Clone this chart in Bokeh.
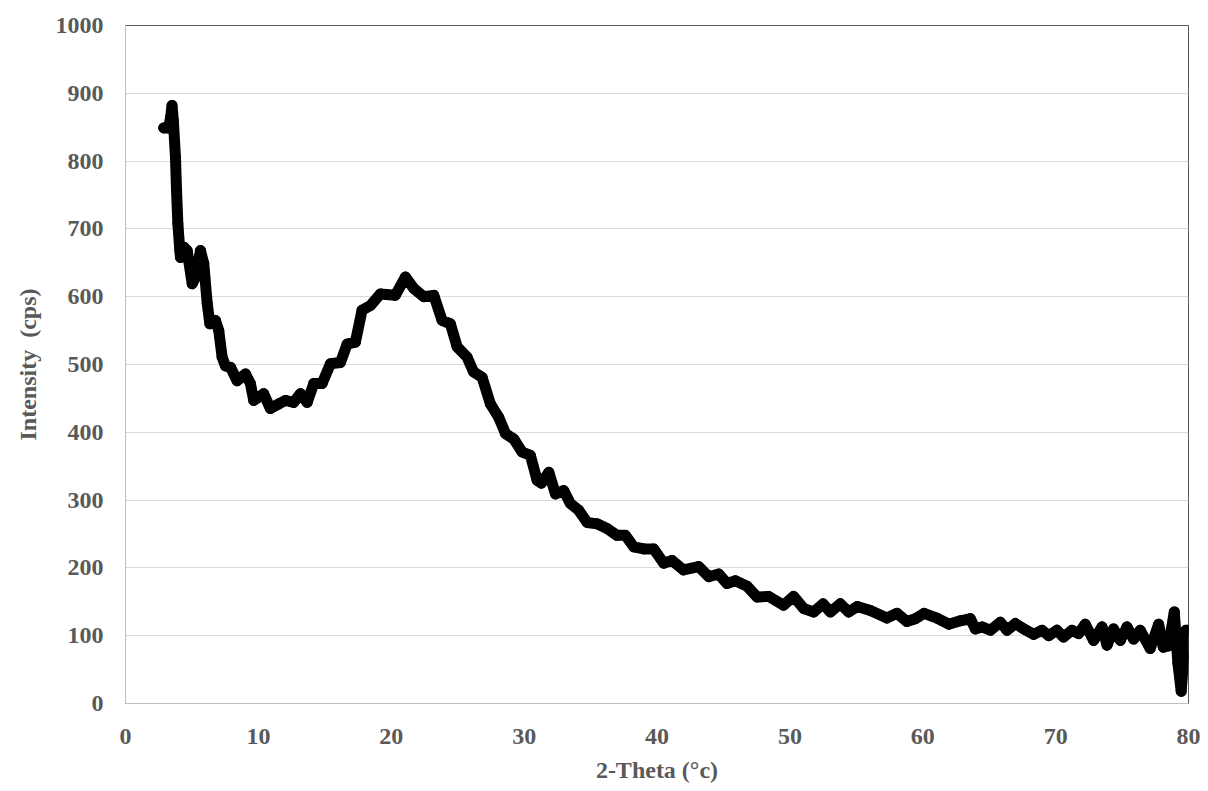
from bokeh.plotting import figure
from bokeh.models import Range1d, FixedTicker
from bokeh.embed import file_html
from bokeh.resources import INLINE

# 2-Theta (degrees) and intensity (cps)
two_theta = [2.88, 3.25, 3.40, 3.50, 3.60, 3.76, 3.84, 3.94, 4.09, 4.14, 4.39, 4.64, 5.02, 5.27,
             5.64, 5.89, 6.15, 6.35, 6.77, 7.02, 7.27, 7.52, 7.90, 8.40, 9.03, 9.40, 9.65, 10.03,
             10.40, 10.90, 11.54, 12.04, 12.66, 13.17, 13.67, 14.17, 14.80, 15.42, 16.18, 16.68,
             17.30, 17.80, 18.43, 19.19, 20.30, 21.07, 21.70, 22.45, 23.20, 23.83, 24.45, 24.96,
             25.70, 26.20, 26.84, 27.46, 28.09, 28.60, 29.22, 29.85, 30.47, 30.98, 31.30, 31.86,
             32.36, 32.98, 33.48, 34.11, 34.74, 35.49, 36.24, 36.99, 37.62, 38.25, 39.00, 39.75,
             40.50, 41.13, 42.00, 43.14, 43.89, 44.64, 45.27, 45.90, 46.78, 47.53, 48.40, 49.53,
             50.28, 51.04, 51.79, 52.50, 53.05, 53.80, 54.43, 55.06, 56.06, 57.30, 58.06, 58.80,
             59.44, 60.10, 61.07, 61.96, 62.83, 63.58, 63.96, 64.46, 65.09, 65.84, 66.34, 66.97,
             67.60, 68.35, 68.98, 69.48, 70.10, 70.60, 71.23, 71.73, 72.23, 72.86, 73.49, 73.87,
             74.36, 74.87, 75.37, 75.87, 76.37, 77.12, 77.75, 78.10, 78.50, 78.93, 79.20, 79.45,
             79.65, 79.80, 80.00]
intensity = [849, 849, 865, 882, 860, 806, 757, 708, 668, 658, 673, 668, 619, 629,
             668, 649, 590, 560, 565, 550, 511, 498, 496, 476, 486, 472, 447, 452,
             457, 435, 442, 447, 444, 457, 444, 472, 472, 501, 503, 530,
             533, 580, 587, 604, 602, 629, 612, 600, 602, 565, 560, 526,
             511, 489, 481, 442, 422, 398, 390, 371, 366, 329, 325, 341,
             309, 314, 295, 285, 267, 265, 258, 248, 248, 231, 228, 228,
             207, 211, 197, 202, 187, 191, 177, 181, 173, 157, 158, 145,
             158, 140, 135, 147, 135, 147, 135, 143, 137, 126, 133, 121,
             125, 133, 126, 117, 122, 125, 110, 113, 108, 120, 108, 118,
             110, 102, 108, 100, 108, 98, 108, 103, 117, 93, 113, 86,
             110, 93, 113, 95, 108, 81, 117, 83, 85, 135, 60, 18,
             70, 108, 108]

x_ticks = [0, 10, 20, 30, 40, 50, 60, 70, 80]
y_ticks = [0, 100, 200, 300, 400, 500, 600, 700, 800, 900, 1000]

TEXT = "#595959"
FONT = "Liberation Serif"

p = figure(width=1200, height=785, output_backend="svg", toolbar_location=None,
           x_range=Range1d(0, 80), y_range=Range1d(0, 1000),
           min_border_left=125, min_border_right=12, min_border_top=25, min_border_bottom=82)

p.line(two_theta, intensity, line_color="black", line_width=11,
       line_join="round", line_cap="round")
p.scatter(two_theta, intensity, size=10, marker="circle", fill_color="black", line_color="black")

p.xaxis.ticker = FixedTicker(ticks=x_ticks)
p.yaxis.ticker = FixedTicker(ticks=y_ticks)
p.xaxis.axis_label = "2-Theta (°c)"
p.yaxis.axis_label = "Intensity\u00a0 (cps)"

for ax in (p.xaxis[0], p.yaxis[0]):
    ax.major_tick_line_color = None
    ax.minor_tick_line_color = None
    ax.axis_line_color = "#bfbfbf"
    ax.major_label_text_font = FONT
    ax.major_label_text_font_style = "bold"
    ax.major_label_text_font_size = "24px"
    ax.major_label_text_color = TEXT
    ax.axis_label_text_font = FONT
    ax.axis_label_text_font_style = "bold"
    ax.axis_label_text_font_size = "24px"
    ax.axis_label_text_color = TEXT

p.xaxis.major_label_standoff = 19
p.yaxis.major_label_standoff = 16
p.xaxis.axis_label_standoff = 10
p.yaxis.axis_label_standoff = 12

p.xgrid.grid_line_color = None
p.ygrid.grid_line_color = "#d9d9d9"
p.ygrid.grid_line_width = 1
p.outline_line_color = "#595959"
p.outline_line_width = 1
p.background_fill_color = "white"
p.border_fill_color = "white"

open("out.html", "w").write(file_html(p, INLINE))
